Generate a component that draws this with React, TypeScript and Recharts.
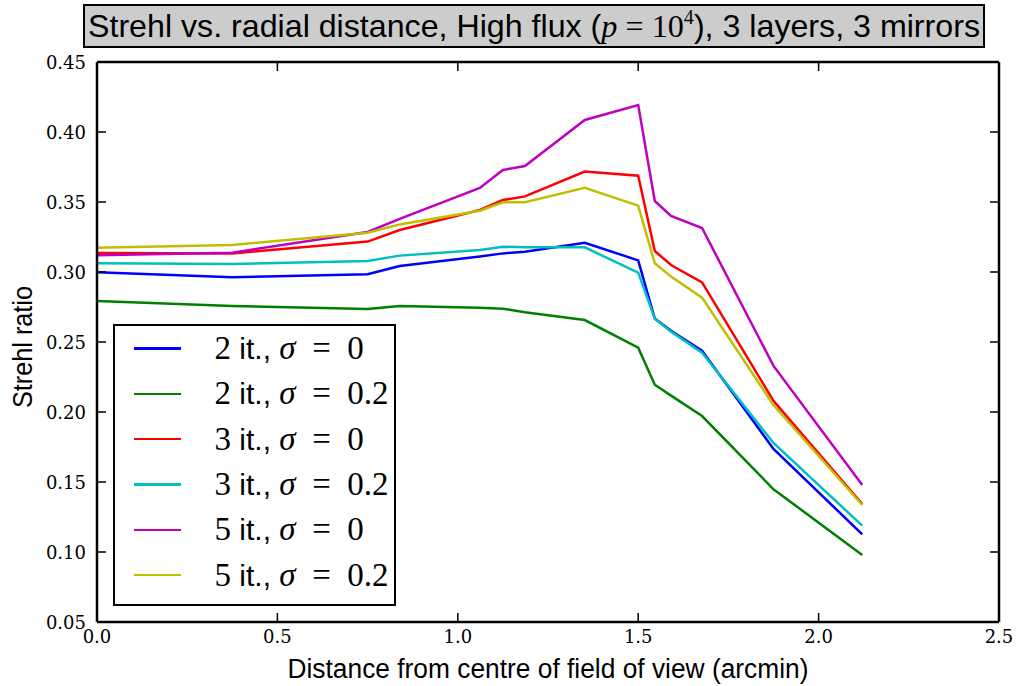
import React from "react";
import { LineChart, Line, XAxis, YAxis, Legend, Label } from "recharts";

// distances of the sampled directions (arcmin)
const distances = [0, 0.375, 0.75, 0.839, 1.061, 1.125, 1.186, 1.352, 1.5, 1.546, 1.591, 1.677, 1.875, 2.121];

const it2Sigma0 = [0.2998, 0.2962, 0.2984, 0.3043, 0.311, 0.3133, 0.3145, 0.3209, 0.3083, 0.2667, 0.258, 0.2438, 0.1736, 0.1126];
const it2Sigma02 = [0.2793, 0.2757, 0.2736, 0.2757, 0.2745, 0.2738, 0.2712, 0.2657, 0.2459, 0.2195, 0.2117, 0.1971, 0.1448, 0.0979];
const it3Sigma0 = [0.3136, 0.3133, 0.3217, 0.33, 0.3443, 0.3514, 0.354, 0.3717, 0.3688, 0.315, 0.305, 0.2926, 0.2079, 0.1343];
const it3Sigma02 = [0.3062, 0.3057, 0.3079, 0.3117, 0.3157, 0.3181, 0.3176, 0.3176, 0.2995, 0.2667, 0.2574, 0.2424, 0.1779, 0.1188];
const it5Sigma0 = [0.312, 0.3138, 0.3286, 0.338, 0.36, 0.3729, 0.3757, 0.4086, 0.4193, 0.3507, 0.34, 0.3314, 0.2329, 0.1479];
const it5Sigma02 = [0.3174, 0.3193, 0.3281, 0.334, 0.3438, 0.3498, 0.3498, 0.3602, 0.3474, 0.3062, 0.2967, 0.2817, 0.205, 0.1336];

const seriesValues = [it2Sigma0, it2Sigma02, it3Sigma0, it3Sigma02, it5Sigma0, it5Sigma02];
const seriesNames = ["2 it., σ = 0", "2 it., σ = 0.2", "3 it., σ = 0", "3 it., σ = 0.2", "5 it., σ = 0", "5 it., σ = 0.2"];
const seriesColors = ["#0000ff", "#008000", "#ff0000", "#00bfbf", "#bf00bf", "#bfbf00"];

const xTicks = [0, 0.5, 1, 1.5, 2, 2.5];
const yTicks = [0.05, 0.1, 0.15, 0.2, 0.25, 0.3, 0.35, 0.4, 0.45];

const rows = distances.map((x, i) => {
  const row: Record<string, number> = { x };
  seriesValues.forEach((vals, s) => (row[`s${s}`] = vals[i]));
  return row;
});

const TICK_LEN = 9;
const TICK_FONT = "'DejaVu Serif', serif";
const SANS = "'Liberation Sans', Arial, sans-serif";

function BottomTick({ x, y, payload }: any) {
  return (
    <g>
      <line x1={x} y1={y} x2={x} y2={y - TICK_LEN} stroke="#000" strokeWidth={1.5} />
      <text x={x} y={y + 14} textAnchor="middle" dominantBaseline="central" fontFamily={TICK_FONT} fontSize={18} fill="#000">
        {Number(payload.value).toFixed(1)}
      </text>
    </g>
  );
}

function TopTick({ x, y }: any) {
  return <line x1={x} y1={y} x2={x} y2={y + TICK_LEN} stroke="#000" strokeWidth={1.5} />;
}

function LeftTick({ x, y, payload }: any) {
  return (
    <g>
      <line x1={x} y1={y} x2={x + TICK_LEN} y2={y} stroke="#000" strokeWidth={1.5} />
      <text x={x - 11} y={y} textAnchor="end" dominantBaseline="central" fontFamily={TICK_FONT} fontSize={18} fill="#000">
        {Number(payload.value).toFixed(2)}
      </text>
    </g>
  );
}

function RightTick({ x, y }: any) {
  return <line x1={x} y1={y} x2={x - TICK_LEN} y2={y} stroke="#000" strokeWidth={1.5} />;
}

function XAxisTitle({ viewBox }: any) {
  const cx = viewBox.x + viewBox.width / 2;
  return (
    <text x={cx} y={viewBox.y + 56} textAnchor="middle" fontFamily={SANS} fontSize={27} fill="#000" textLength={521} lengthAdjust="spacingAndGlyphs">
      Distance from centre of field of view (arcmin)
    </text>
  );
}

function YAxisTitle({ viewBox }: any) {
  const cy = viewBox.y + viewBox.height / 2 + 5;
  const bx = 32;
  return (
    <text x={bx} y={cy} transform={`rotate(-90 ${bx} ${cy})`} textAnchor="middle" fontFamily={SANS} fontSize={27} fill="#000" textLength={122} lengthAdjust="spacingAndGlyphs">
      Strehl ratio
    </text>
  );
}

function LegendBox({ payload }: any) {
  return (
    <div style={{ width: 283, height: 282, boxSizing: "border-box", border: "2.5px solid #000", background: "#fff" }}>
      {(payload || []).map((entry: any) => {
        const m = /^(\d+) it\., σ = (.+)$/.exec(String(entry.value));
        const iters = m ? m[1] : "";
        const sigma = m ? m[2] : "";
        return (
          <div key={entry.value} style={{ height: 45.3, display: "flex", alignItems: "center" }}>
            <span style={{ marginLeft: 18.5, width: 47, height: 2.5, background: entry.color, display: "inline-block" }} />
            <span style={{ marginLeft: 34, whiteSpace: "nowrap", lineHeight: 1, color: "#000" }}>
              <span style={{ fontFamily: "'Liberation Serif', serif", fontSize: 33 }}>{iters}</span>
              <span style={{ fontFamily: SANS, fontSize: 30 }}> it., </span>
              <span style={{ fontFamily: "'Liberation Serif', serif", fontSize: 33, fontStyle: "italic" }}>σ</span>
              <span style={{ fontFamily: "'Liberation Serif', serif", fontSize: 33 }}>{"\u2002=\u2002"}{sigma}</span>
            </span>
          </div>
        );
      })}
    </div>
  );
}

function Title() {
  return (
    <div style={{ position: "absolute", left: 83, top: 4, width: 902, height: 44, boxSizing: "border-box", border: "2px solid #000", background: "#cccccc" }}>
      <svg width={898} height={40} style={{ display: "block" }}>
        <text x={449} y={31} textAnchor="middle" fontFamily={SANS} fontSize={32} fill="#000" textLength={892} lengthAdjust="spacingAndGlyphs">
          <tspan>Strehl vs. radial distance, High flux (</tspan>
          <tspan fontFamily="'Liberation Serif', serif" fontStyle="italic">p</tspan>
          <tspan fontFamily="'Liberation Serif', serif">{" = 10"}</tspan>
          <tspan fontFamily="'Liberation Serif', serif" fontSize={20} dy={-13}>4</tspan>
          <tspan dy={13}>), 3 layers, 3 mirrors</tspan>
        </text>
      </svg>
    </div>
  );
}

export default function App() {
  return (
    <div style={{ position: "absolute", left: 0, top: 0, width: 1016, height: 686, background: "#fff" }}>
      <LineChart width={1016} height={686} data={rows} margin={{ top: 0, right: 0, bottom: 0, left: 0 }}>
        <XAxis
          dataKey="x"
          type="number"
          domain={[0, 2.5]}
          ticks={xTicks}
          height={64}
          tickSize={0}
          tickMargin={0}
          tickLine={false}
          tick={<BottomTick />}
          axisLine={{ stroke: "#000", strokeWidth: 2.5 }}
          interval={0}
        >
          <Label content={<XAxisTitle />} />
        </XAxis>
        <XAxis
          xAxisId="top"
          orientation="top"
          dataKey="x"
          type="number"
          domain={[0, 2.5]}
          ticks={xTicks}
          height={62}
          tickSize={0}
          tickMargin={0}
          tickLine={false}
          tick={<TopTick />}
          axisLine={{ stroke: "#000", strokeWidth: 2.5 }}
          interval={0}
        />
        <YAxis
          type="number"
          domain={[0.05, 0.45]}
          ticks={yTicks}
          width={97}
          tickSize={0}
          tickMargin={0}
          tickLine={false}
          tick={<LeftTick />}
          axisLine={{ stroke: "#000", strokeWidth: 2.5 }}
          interval={0}
          allowDataOverflow
        >
          <Label content={<YAxisTitle />} />
        </YAxis>
        <YAxis
          yAxisId="right"
          orientation="right"
          type="number"
          domain={[0.05, 0.45]}
          ticks={yTicks}
          width={17}
          tickSize={0}
          tickMargin={0}
          tickLine={false}
          tick={<RightTick />}
          axisLine={{ stroke: "#000", strokeWidth: 2.5 }}
          interval={0}
          allowDataOverflow
        />
        <Legend
          layout="vertical"
          align="center"
          verticalAlign="middle"
          content={<LegendBox />}
          wrapperStyle={{ left: 113, top: 324, width: 283, height: 282 }}
        />
        {seriesNames.map((name, s) => (
          <Line
            key={name}
            type="linear"
            dataKey={`s${s}`}
            name={name}
            stroke={seriesColors[s]}
            strokeWidth={2.5}
            dot={false}
            activeDot={false}
            isAnimationActive={false}
          />
        ))}
      </LineChart>
      <Title />
    </div>
  );
}
